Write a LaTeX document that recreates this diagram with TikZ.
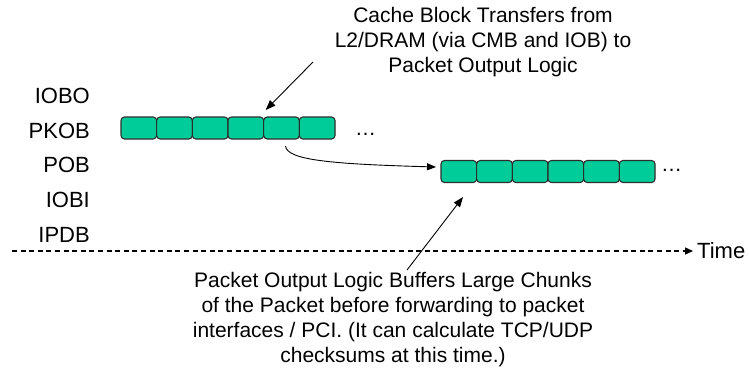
\documentclass[tikz,border=0pt]{standalone}
\usepackage{fontspec}
\setmainfont{Liberation Sans}
\usetikzlibrary{arrows.meta}
\definecolor{cellfill}{RGB}{0,204,153}
\definecolor{celledge}{RGB}{45,45,45}
\tikzset{
  cell/.style={draw=celledge, fill=cellfill, line width=1.1pt, rounded corners=3.5pt,
    minimum width=35.67pt, minimum height=22pt, inner sep=0pt, outer sep=0pt, anchor=north west},
  lbl/.style={font=\fontsize{22pt}{26pt}\selectfont, inner sep=0pt, anchor=base east},
  note/.style={font=\fontsize{21pt}{25pt}\selectfont, align=center, inner sep=0pt, anchor=base},
  dots/.style={font=\fontsize{21pt}{25pt}\selectfont, inner sep=0pt, anchor=base west},
  pointer/.style={line width=0.9pt, -{Triangle[length=10pt,width=7.5pt]}},
}
\begin{document}
\begin{tikzpicture}[x=1pt, y=-1pt]
  \useasboundingbox (0,0) rectangle (749,373);

  % buffer names
  \node[lbl] (iobo) at (90,103) {IOBO};
  \node[lbl] (pkob) at (90,138) {PKOB};
  \node[lbl] (pob)  at (90,172.5) {POB};
  \node[lbl] (iobi) at (90,207) {IOBI};
  \node[lbl] (ipdb) at (90,242) {IPDB};

  % cache blocks arriving in PKOB
  \foreach \i in {1,...,6}
    \node[cell] (a\i) at ({121+35.67*(\i-1)},117) {};
  \node[dots] (adots) at (355,135) {…};

  % buffered chunks in POB
  \foreach \i in {1,...,6}
    \node[cell] (b\i) at ({441+35.67*(\i-1)},160.5) {};
  \node[dots] (bdots) at (661,171) {…};

  % time axis
  \coordinate (t0) at (12,251);
  \node[font=\fontsize{22pt}{26pt}\selectfont, inner sep=0pt, anchor=base west] (time) at (697,258) {Time};
  \draw[line width=1.3pt, dash pattern=on 5pt off 3.6pt, -{Triangle[length=8pt,width=7pt]}, shorten >=4pt]
    (t0) -- (t0 -| time.west);

  % descriptions (base anchor sits on the last line)
  \node[note] (top) at (483,72) {Cache Block Transfers from\\L2/DRAM (via CMB and IOB) to\\Packet Output Logic};
  \node[note] (bottom) at (393,362) {Packet Output Logic Buffers Large Chunks\\of the Packet before forwarding to packet\\interfaces / PCI. (It can calculate TCP/UDP\\checksums at this time.)};

  % pointers
  \coordinate (topstart) at (313,62);
  \coordinate (botstart) at (407,270);
  \draw[pointer] (topstart) -- ([shift={(2,-7)}]a5.north west);
  \draw[pointer] (botstart) -- ([shift={(22,14.5)}]b1.south west);

  % transfer from PKOB to POB
  \draw[line width=0.9pt, -{Triangle[length=9pt,width=7pt]}]
    ([shift={(4,7)}]a5.south) .. controls (287,160) and (330,164) .. ([shift={(-5,-4.5)}]b1.west);
\end{tikzpicture}
\end{document}
